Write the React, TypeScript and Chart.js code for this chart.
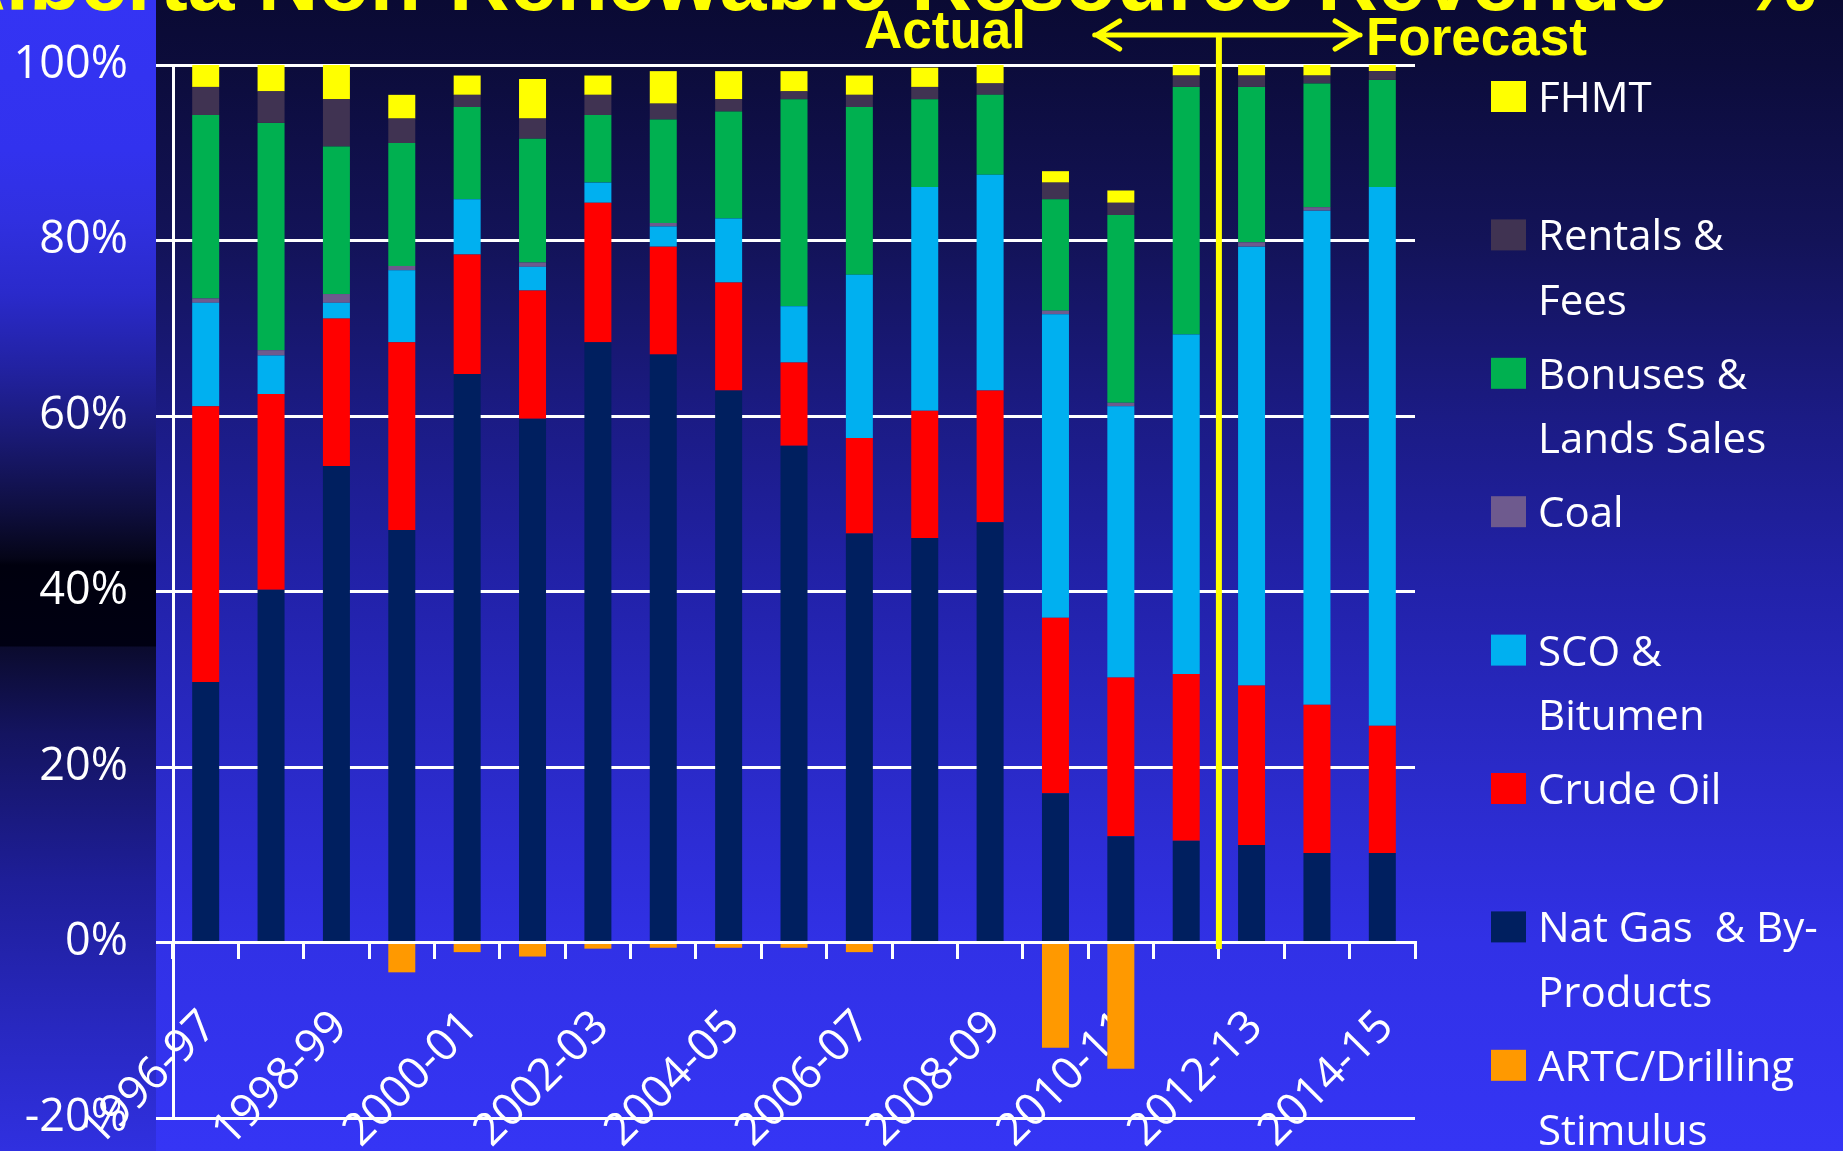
import { useEffect, useRef } from 'react';
import { Chart, registerables } from 'chart.js';

Chart.register(...registerables);

const categories = [
  '1996-97', '1997-98', '1998-99', '1999-00', '2000-01', '2001-02', '2002-03',
  '2003-04', '2004-05', '2005-06', '2006-07', '2007-08', '2008-09', '2009-10',
  '2010-11', '2011-12', '2012-13', '2013-14', '2014-15',
];

const natGas = [29.7, 40.2, 54.3, 47.0, 64.8, 59.7, 68.4, 67.0, 62.9, 56.6, 46.6, 46.1, 47.9, 17.0, 12.1, 11.6, 11.1, 10.2, 10.2];
const crudeOil = [31.4, 22.3, 16.8, 21.4, 13.6, 14.6, 15.9, 12.3, 12.3, 9.5, 10.9, 14.5, 15.0, 20.0, 18.1, 19.0, 18.2, 16.9, 14.5];
const scoBitumen = [11.8, 4.4, 1.8, 8.2, 6.3, 2.7, 2.3, 2.3, 7.3, 6.4, 18.6, 25.5, 24.6, 34.6, 30.9, 38.7, 50.0, 56.3, 61.4];
const coal = [0.5, 0.6, 1.0, 0.5, 0, 0.5, 0, 0.4, 0, 0, 0, 0, 0, 0.4, 0.4, 0, 0.5, 0.4, 0];
const bonuses = [20.9, 25.9, 16.8, 14.0, 10.5, 14.1, 7.7, 11.8, 12.2, 23.6, 19.1, 10.0, 9.1, 12.7, 21.4, 28.2, 17.7, 14.1, 12.2];
const rentals = [3.2, 3.6, 5.4, 2.8, 1.4, 2.3, 2.3, 1.8, 1.4, 0.9, 1.4, 1.4, 1.3, 1.9, 1.4, 1.3, 1.3, 0.9, 1.0];
const fhmt = [2.5, 3.0, 3.9, 2.7, 2.2, 4.5, 2.2, 3.7, 3.2, 2.3, 2.2, 2.2, 2.1, 1.3, 1.4, 1.2, 1.2, 1.2, 0.7];
const artc = [0, 0, 0, -3.4, -1.1, -1.6, -0.7, -0.6, -0.6, -0.6, -1.1, 0, 0, -12.0, -14.4, 0, 0, 0, 0];

const yTickValues = [-20, 0, 20, 40, 60, 80, 100];

const TITLE = 'Alberta Non-Renewable Resource Revenue - %';
const ACTUAL_LABEL = 'Actual';
const FORECAST_LABEL = 'Forecast';
// divider between 2011-12 and 2012-13 (category index space)
const DIVIDER = 15.5;

const seriesNames = [
  ['Nat Gas  & By-', 'Products'],
  ['Crude Oil'],
  ['SCO &', 'Bitumen'],
  ['Coal'],
  ['Bonuses &', 'Lands Sales'],
  ['Rentals &', 'Fees'],
  ['FHMT'],
  ['ARTC/Drilling', 'Stimulus'],
];
const seriesColors = ['#001F5F', '#FF0000', '#00B0F0', '#6E5A8E', '#00B050', '#403352', '#FFFF00', '#FF9900'];
const seriesValues = [natGas, crudeOil, scoBitumen, coal, bonuses, rentals, fhmt, artc];
// legend order, top to bottom
const legendOrder = [6, 5, 4, 3, 2, 1, 0, 7];

const W = 1843;
const H = 1151;

const overlayPlugin = {
  id: 'overlay',
  afterDraw(chart: any) {
    const ctx: CanvasRenderingContext2D = chart.ctx;
    const xs = chart.scales.x;
    ctx.save();

    // title (cut off at top)
    ctx.fillStyle = '#FFFF00';
    ctx.font = 'bold 84px "Liberation Sans", Arial, sans-serif';
    ctx.textAlign = 'left';
    ctx.textBaseline = 'alphabetic';
    ctx.fillText(TITLE, -55, 10);

    // divider line
    const lineX = xs.getPixelForValue(DIVIDER);
    ctx.strokeStyle = '#FFFF00';
    ctx.lineWidth = 6;
    ctx.beginPath();
    ctx.moveTo(lineX, 35);
    ctx.lineTo(lineX, 949);
    ctx.stroke();

    // double arrow
    const a1 = xs.getPixelForValue(13.6);
    const a2 = xs.getPixelForValue(17.66);
    const ay = 35;
    ctx.lineWidth = 5;
    ctx.lineCap = 'round';
    ctx.lineJoin = 'round';
    ctx.beginPath();
    ctx.moveTo(a1, ay);
    ctx.lineTo(a2, ay);
    ctx.moveTo(a1 + 25, ay - 14);
    ctx.lineTo(a1 + 2, ay);
    ctx.lineTo(a1 + 25, ay + 14);
    ctx.moveTo(a2 - 25, ay - 14);
    ctx.lineTo(a2 - 2, ay);
    ctx.lineTo(a2 - 25, ay + 14);
    ctx.stroke();

    ctx.font = 'bold 53px "Liberation Sans", Arial, sans-serif';
    ctx.textAlign = 'right';
    ctx.fillText(ACTUAL_LABEL, xs.getPixelForValue(12.55), 48);
    ctx.textAlign = 'left';
    ctx.fillText(FORECAST_LABEL, xs.getPixelForValue(17.75), 55);

    // legend
    ctx.font = '42px "Open Sans", sans-serif';
    ctx.textAlign = 'left';
    legendOrder.forEach((di, k) => {
      const base = 112 + k * 138.4;
      ctx.fillStyle = seriesColors[di];
      ctx.fillRect(1491, base - 31, 35, 31);
      ctx.fillStyle = '#FFFFFF';
      seriesNames[di].forEach((line, li) => {
        ctx.fillText(line, 1538, base + li * 64.5);
      });
    });

    ctx.restore();
  },
};

export default function App() {
  const ref = useRef<HTMLCanvasElement | null>(null);

  useEffect(() => {
    if (!ref.current) return;
    const chart = new Chart(ref.current, {
      type: 'bar',
      data: {
        labels: categories,
        datasets: seriesValues.map((vals, i) => ({
          label: seriesNames[i].join(' '),
          data: vals,
          backgroundColor: seriesColors[i],
          borderWidth: 0,
          barPercentage: 0.413,
          categoryPercentage: 1.0,
        })),
      },
      options: {
        responsive: false,
        animation: false,
        devicePixelRatio: 1,
        layout: { padding: { left: 0, top: 65, right: W - 1415, bottom: 33 } },
        plugins: {
          legend: { display: false },
          tooltip: { enabled: false },
        },
        scales: {
          x: {
            stacked: true,
            position: { y: 0 } as any,
            offset: true,
            grid: {
              display: true,
              drawOnChartArea: false,
              drawTicks: true,
              tickLength: 15,
              color: '#FFFFFF',
              lineWidth: 3,
              offset: true,
            },
            border: { display: true, color: '#FFFFFF', width: 3 },
            ticks: {
              autoSkip: false,
              minRotation: 45,
              maxRotation: 45,
              padding: 43,
              labelOffset: 4,
              color: '#FFFFFF',
              font: { family: '"Open Sans", sans-serif', size: 45 },
              callback: (_v: any, idx: number) => (idx % 2 === 0 ? categories[idx] : ''),
            },
            afterFit: (s: any) => {
              s.height = 0;
              s.paddingLeft = 0;
              s.paddingRight = 0;
              s.paddingTop = 0;
              s.paddingBottom = 0;
            },
          },
          y: {
            stacked: true,
            min: -20,
            max: 100,
            afterBuildTicks: (s: any) => {
              s.ticks = yTickValues.map((v) => ({ value: v }));
            },
            grid: {
              color: '#FFFFFF',
              lineWidth: 3,
              tickLength: 17,
              drawTicks: true,
            },
            border: { display: true, color: '#FFFFFF', width: 3 },
            ticks: {
              padding: 28,
              color: '#FFFFFF',
              font: { family: '"Open Sans", sans-serif', size: 45 },
              callback: (v: any) => `${v}%`,
            },
            afterFit: (s: any) => {
              s.width = 173;
              s.paddingTop = 0;
              s.paddingBottom = 0;
            },
          },
        },
      },
      plugins: [overlayPlugin],
    });
    return () => chart.destroy();
  }, []);

  return (
    <div style={{ position: 'fixed', left: 0, top: 0, width: W, height: H, overflow: 'hidden' }}>
      <div
        style={{
          position: 'absolute', left: 0, top: 0, width: W, height: H,
          background:
            'linear-gradient(to bottom, #0a0a33 0px, #0c0c3b 65px, #131358 241px, #1b1b84 416px, #2222aa 592px, #2a2ac8 767px, #3131e6 943px, #3535f5 1151px)',
        }}
      />
      <div
        style={{
          position: 'absolute', left: 0, top: 0, width: 156, height: H,
          background:
            'linear-gradient(to bottom, #3434f4 0px, #3232ee 150px, #3030e0 220px, #2a2acb 294px, #2222a2 367px, #191972 440px, #0e0e3c 514px, #050518 558px, #00000e 565px, #000012 646px, #0b0b2e 647px, #141460 734px, #1e1e98 881px, #2828c0 1028px, #3030e0 1151px)',
        }}
      />
      <canvas ref={ref} width={W} height={H} style={{ position: 'absolute', left: 0, top: 0, width: W, height: H }} />
    </div>
  );
}
